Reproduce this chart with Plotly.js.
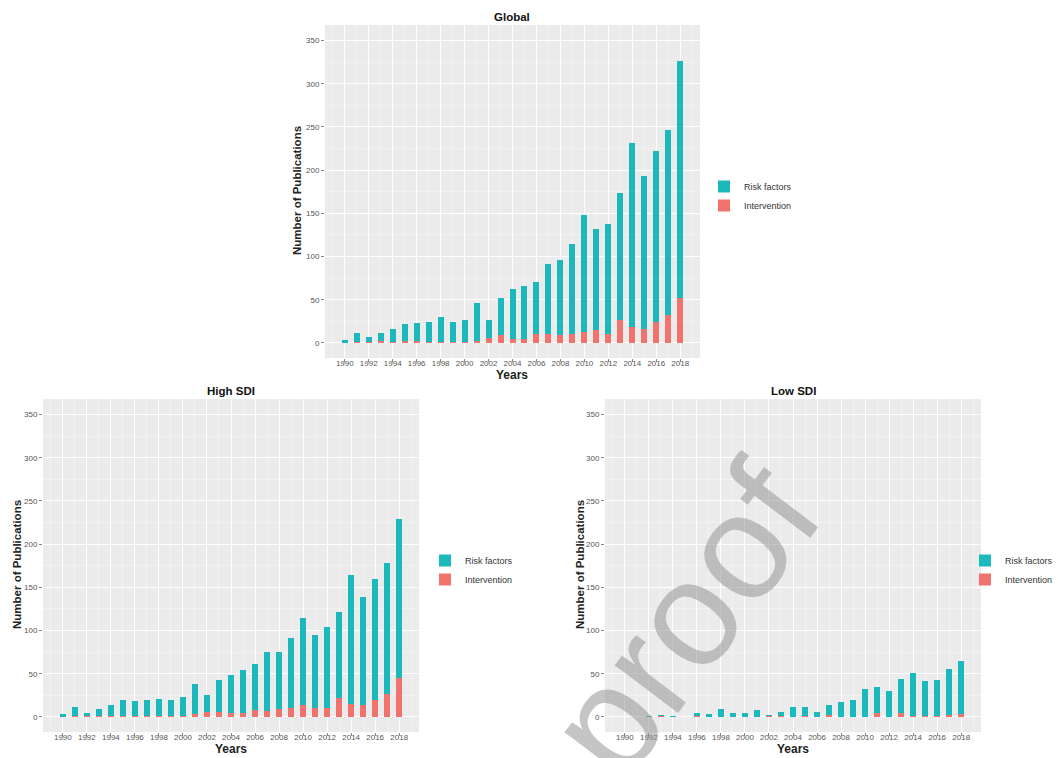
<!DOCTYPE html>
<html>
<head>
<meta charset="utf-8">
<script src="https://cdn.plot.ly/plotly-3.0.1.min.js"></script>
<style>html,body{margin:0;padding:0;background:#fff;}#chart{width:1058px;height:758px;}</style>
</head>
<body>
<div id="chart"></div>
<script>
// ---- data ----
const years = [1990,1991,1992,1993,1994,1995,1996,1997,1998,1999,2000,2001,2002,2003,2004,2005,2006,2007,2008,2009,2010,2011,2012,2013,2014,2015,2016,2017,2018];
const xTicks = [1990,1992,1994,1996,1998,2000,2002,2004,2006,2008,2010,2012,2014,2016,2018];
const yTicks = [0,50,100,150,200,250,300,350];

const globalIntervention = [0,1,1,2,1,2,2,1,1,1,1,2,6,9,4,5,10,10,9,10,13,15,10,27,18,16,24,32,52];
const globalRisk        = [3,11,6,9,15,20,21,23,29,23,26,44,21,43,58,61,61,81,87,104,135,117,128,146,213,177,198,215,274];

const highIntervention = [0,1,1,1,1,1,1,1,1,1,1,3,6,6,4,4,8,7,9,10,14,10,10,22,15,14,20,27,45];
const highRisk         = [3,11,4,8,13,18,17,19,20,18,22,35,19,37,44,50,53,68,66,81,100,85,94,99,149,125,140,151,184];

const lowIntervention = [0,0,0,1,0,0,1,0,0,0,0,0,1,1,0,1,0,2,0,0,0,4,0,4,1,1,1,2,3];
const lowRisk         = [0,0,1,1,1,0,3,3,9,4,4,8,1,5,12,11,6,12,17,19,32,31,30,40,50,40,42,53,62];

const panelTitles = ['Global','High SDI','Low SDI'];
const seriesNames = ['Risk factors','Intervention'];

// ---- styling ----
const TEAL = '#1BB9BC';
const RED = '#F0746D';
const W = 1058, H = 758;
const font = 'Liberation Sans, Arial, sans-serif';

const panels = [
  {int: globalIntervention, risk: globalRisk, xa:'x', ya:'y', leg:'legend', px:[325,700], py:[25,358]},
  {int: highIntervention, risk: highRisk, xa:'x2', ya:'y2', leg:'legend2', px:[43,419], py:[399,732]},
  {int: lowIntervention, risk: lowRisk, xa:'x3', ya:'y3', leg:'legend3', px:[605,981], py:[399,732]}
];

const traces = [];
panels.forEach(p => {
  traces.push({type:'bar', x: years, y: p.int, name: seriesNames[1], xaxis:p.xa, yaxis:p.ya,
    legend:p.leg, legendrank:2, width:0.5, marker:{color:RED, line:{width:0}}});
  traces.push({type:'bar', x: years, y: p.risk, name: seriesNames[0], xaxis:p.xa, yaxis:p.ya,
    legend:p.leg, legendrank:1, width:0.5, marker:{color:TEAL, line:{width:0}}});
});

function xAxis(p){
  return {domain:[p.px[0]/W, p.px[1]/W], range:[1988.35,2019.65], anchor: p.ya,
    tickvals:xTicks, ticks:'outside', ticklen:3, tickcolor:'#333', tickwidth:0.6,
    ticklabelstandoff:-6,
    tickfont:{family:font,size:8,color:'#555'}, showgrid:true, gridcolor:'#FFFFFF', gridwidth:1,
    minor:{dtick:1, tick0:1989, showgrid:true, gridcolor:'#F7F7F7', gridwidth:0.6, ticks:''},
    zeroline:false, showline:false, fixedrange:true, automargin:false};
}
function yAxis(p){
  return {domain:[1-p.py[1]/H, 1-p.py[0]/H], range:[-17.5,368], anchor: p.xa,
    tickvals:yTicks, ticks:'outside', ticklen:3, tickcolor:'#333', tickwidth:0.6,
    tickfont:{family:font,size:8,color:'#555'}, showgrid:true, gridcolor:'#FFFFFF', gridwidth:1,
    minor:{dtick:25, tick0:25, showgrid:true, gridcolor:'#F7F7F7', gridwidth:0.6, ticks:''},
    zeroline:false, showline:false, fixedrange:true, automargin:false};
}

function legendAt(x, y, anchor){
  return {x:x/W, y:1-y/H, xanchor:anchor||'left', yanchor:'top', bgcolor:'rgba(0,0,0,0)',
    font:{family:font,size:9,color:'#333'}, itemwidth:30, tracegroupgap:0, traceorder:'normal'};
}

const annotations = [];
const titleXY = [[512,17],[231,391],[793,391]];
panelTitles.forEach((t,i)=>{
  annotations.push({text:'<b>'+t+'</b>', xref:'paper', yref:'paper', x:titleXY[i][0]/W, y:1-titleXY[i][1]/H,
    showarrow:false, font:{family:font,size:11.5,color:'#111'}, xanchor:'center', yanchor:'middle'});
});
const yearsXY = [[512,375],[231,749],[793,749]];
yearsXY.forEach(p=>{
  annotations.push({text:'<b>Years</b>', xref:'paper', yref:'paper', x:p[0]/W, y:1-p[1]/H,
    showarrow:false, font:{family:font,size:12,color:'#222'}, xanchor:'center', yanchor:'middle'});
});
const ytXY = [[297,191],[17,565],[580,565]];
ytXY.forEach(p=>{
  annotations.push({text:'<b>Number of Publications</b>', xref:'paper', yref:'paper', x:p[0]/W, y:1-p[1]/H,
    showarrow:false, textangle:-90, font:{family:font,size:11.5,color:'#222'}, xanchor:'center', yanchor:'middle'});
});
// watermark
annotations.push({text:'-proof', xref:'paper', yref:'paper', x:668/W, y:1-640/H, showarrow:false,
  textangle:-53, font:{family:font,size:150,color:'rgba(150,150,150,0.55)'}, xanchor:'center', yanchor:'middle'});

const layout = {
  width:W, height:H, margin:{l:0,r:0,t:0,b:0,autoexpand:false}, paper_bgcolor:'#FFFFFF', plot_bgcolor:'#EBEBEB',
  barmode:'stack', showlegend:true, font:{family:font},
  xaxis:xAxis(panels[0]), yaxis:yAxis(panels[0]),
  xaxis2:xAxis(panels[1]), yaxis2:yAxis(panels[1]),
  xaxis3:xAxis(panels[2]), yaxis3:yAxis(panels[2]),
  legend:legendAt(704,172), legend2:legendAt(425,546), legend3:legendAt(1058,546,'right'),
  annotations:annotations
};

Plotly.newPlot('chart', traces, layout, {staticPlot:true, displayModeBar:false});
</script>
</body>
</html>
